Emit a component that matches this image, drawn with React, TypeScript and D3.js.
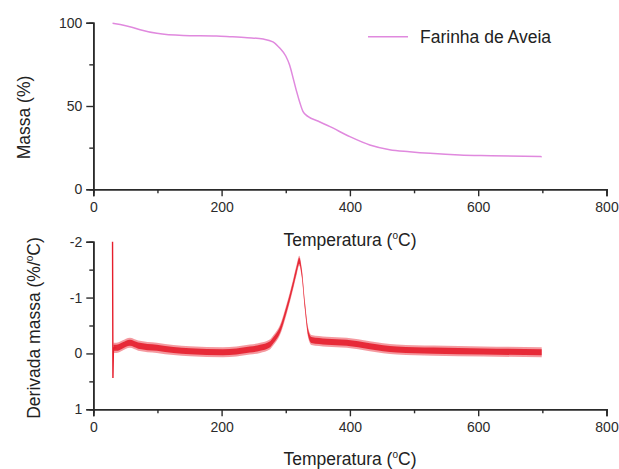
import { useEffect, useRef } from 'react'
import * as d3 from 'd3'

// TG curve (mass %)
const tgTemp = [30, 42, 60, 73, 99, 140, 192, 213, 240, 265, 280, 291, 300, 306, 312, 317, 322, 327, 335, 350, 369, 400, 431, 462, 493, 525, 571, 620, 699]
const tgMass = [99.6, 98.9, 97.3, 95.8, 93.6, 92.3, 92.0, 91.6, 91.0, 90.2, 88.5, 84.6, 80.0, 74.6, 66.0, 58.6, 52.0, 46.6, 43.6, 41.0, 37.6, 31.6, 26.6, 23.8, 22.6, 21.6, 20.6, 20.2, 19.6]

// DTG curve (%/°C), axis reversed
const dtgTemp = [30, 30.6, 31.4, 36, 45, 57, 70, 99, 125, 151, 202, 244, 260, 275, 281, 291, 301, 312, 317, 321, 325, 330, 335, 340, 364, 395, 431, 473, 530, 608, 699]
const dtgRate = [-2.0, 0.44, -0.1, -0.1, -0.14, -0.19, -0.14, -0.1, -0.06, -0.04, -0.02, -0.07, -0.1, -0.16, -0.24, -0.42, -0.78, -1.26, -1.5, -1.66, -1.44, -0.84, -0.37, -0.24, -0.21, -0.19, -0.13, -0.07, -0.05, -0.035, -0.02]
const dtgNoise = 0.09

const xTicks = [0, 200, 400, 600, 800]
const xMinor = [100, 300, 500, 700]
const tgTicks = [0, 50, 100]
const tgMinor = [25, 75]
const dtgTicks = [-2, -1, 0, 1]
const dtgMinor = [-1.5, -0.5, 0.5]
const seriesName = 'Farinha de Aveia'

const font = '"Liberation Sans", Arial, sans-serif'
const axisColor = '#2a2a2a'
const tgColor = '#e089de'
const dtgColor = '#e61e2c'

function App() {
  const ref = useRef<SVGSVGElement>(null)

  useEffect(() => {
    const svg = d3.select(ref.current)
    svg.selectAll('*').remove()

    const x = d3.scaleLinear().domain([0, 800]).range([93.3, 606.5])
    const yTg = d3.scaleLinear().domain([0, 100]).range([189.3, 22.7])
    const yDtg = d3.scaleLinear().domain([-2, 1]).range([241.7, 409.3])

    const styleAxis = (g: any) => {
      g.select('.domain').attr('stroke', axisColor).attr('stroke-width', 1.6)
      g.selectAll('.tick line').attr('stroke', axisColor).attr('stroke-width', 1.4)
      g.selectAll('.tick text')
        .attr('fill', '#2b2b2b')
        .style('font-family', font)
        .style('font-size', '14px')
    }

    const drawPanel = (y: any, yTicks: number[], yMinor: number[], bottom: number) => {
      const gx = svg.append('g').attr('transform', `translate(0,${bottom})`)
      gx.append('g')
        .call(d3.axisBottom(x).tickValues(xMinor).tickSize(4).tickFormat(() => ''))
        .call(styleAxis)
      gx.append('g')
        .call(d3.axisBottom(x).tickValues(xTicks).tickSize(7).tickPadding(6).tickFormat((d: any) => String(d)))
        .call(styleAxis)

      const gy = svg.append('g').attr('transform', `translate(${x(0)},0)`)
      gy.append('g')
        .call(d3.axisLeft(y).tickValues(yMinor).tickSize(4).tickFormat(() => ''))
        .call(styleAxis)
      gy.append('g')
        .call(d3.axisLeft(y).tickValues(yTicks).tickSize(7).tickPadding(4).tickFormat((d: any) => String(d)))
        .call(styleAxis)
    }

    drawPanel(yTg, tgTicks, tgMinor, 189.3)
    drawPanel(yDtg, dtgTicks, dtgMinor, 409.3)

    // TG line
    const tg = tgTemp.map((t, i) => [t, tgMass[i]] as [number, number])
    svg.append('path')
      .datum(tg)
      .attr('fill', 'none')
      .attr('stroke', tgColor)
      .attr('stroke-width', 1.5)
      .attr('d', d3.line().x((d) => x(d[0])).y((d) => yTg(d[1])).curve(d3.curveMonotoneX))

    // DTG line with noise band
    const dtg = dtgTemp.map((t, i) => [t, dtgRate[i]] as [number, number])
    const band = dtg.slice(2)
    svg.append('path')
      .datum(band)
      .attr('fill', dtgColor)
      .attr('opacity', 0.45)
      .attr('d', d3.area().x((d) => x(d[0])).y0((d) => yDtg(d[1] - dtgNoise)).y1((d) => yDtg(d[1] + dtgNoise)).curve(d3.curveMonotoneX))
    svg.append('path')
      .datum(band)
      .attr('fill', dtgColor)
      .attr('opacity', 0.9)
      .attr('d', d3.area().x((d) => x(d[0])).y0((d) => yDtg(d[1] - dtgNoise * 0.6)).y1((d) => yDtg(d[1] + dtgNoise * 0.6)).curve(d3.curveMonotoneX))
    svg.append('path')
      .datum(dtg.slice(0, 4))
      .attr('fill', 'none')
      .attr('stroke', dtgColor)
      .attr('stroke-width', 1.4)
      .attr('d', d3.line().x((d) => x(d[0])).y((d) => yDtg(d[1])))

    // axis titles
    const title = (g: any, cx: number, cy: number, rotate: boolean, main: string, sup: string | null, rest: string) => {
      const t = g.append('text')
        .attr('text-anchor', 'middle')
        .attr('fill', '#222')
        .style('font-family', font)
        .style('font-size', '17.5px')
        .attr('transform', `translate(${cx},${cy})${rotate ? ' rotate(-90)' : ''}`)
      t.append('tspan').text(main)
      if (sup) {
        t.append('tspan').attr('font-size', '10px').attr('dy', -7).text(sup)
        t.append('tspan').attr('dy', 7).text(rest)
      }
      return t
    }
    title(svg, 350, 246, false, 'Temperatura (', 'o', 'C)')
    title(svg, 350, 465, false, 'Temperatura (', 'o', 'C)')
    title(svg, 30, 117.5, true, 'Massa (%)', null, '')
    title(svg, 40, 328, true, 'Derivada massa (%/', 'o', 'C)')

    // legend
    svg.append('line')
      .attr('x1', 368).attr('x2', 408).attr('y1', 36.7).attr('y2', 36.7)
      .attr('stroke', tgColor).attr('stroke-width', 1.5)
    svg.append('text')
      .attr('x', 420).attr('y', 42.5)
      .attr('fill', '#222')
      .style('font-family', font)
      .style('font-size', '17.5px')
      .text(seriesName)
  }, [])

  return (
    <svg
      ref={ref}
      width={619}
      height={469}
      style={{ position: 'absolute', left: 0, top: 0, background: '#fff' }}
    />
  )
}

export default App
